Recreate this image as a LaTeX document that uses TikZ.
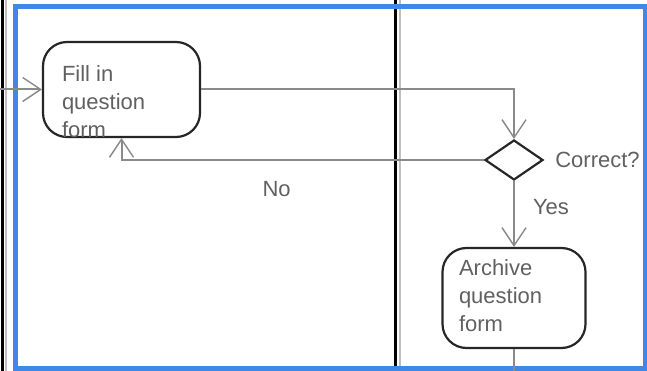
\documentclass[tikz,border=0pt]{standalone}
\usepackage{fontspec}
\setmainfont{Liberation Sans}
\usetikzlibrary{shapes.geometric}
\usetikzlibrary{positioning}
\usetikzlibrary{arrows.meta}

\definecolor{laneblue}{HTML}{3F88E8}
\definecolor{textgray}{HTML}{606060}
\definecolor{linegray}{HTML}{8A8A8A}

% text of an activity, moved up or down inside its box
\newcommand{\acttext}[3]{\raisebox{#1}[\height][\depth]{\parbox{#2}{\raggedright #3}}}

\begin{document}
\begin{tikzpicture}[x=1pt, y=-1pt,
  activity/.style={draw=black!85, line width=2.2pt, rounded corners=24pt, inner sep=0pt, font=\fontsize{22}{28}\selectfont, text=textgray},
  decision/.style={draw=black!85, diamond, line width=2.2pt, inner sep=0pt, minimum width=58pt, minimum height=40pt},
  flow/.style={draw=linegray, line width=2pt, -{Straight Barb[length=18pt,width=24pt,line width=1.4pt]}},
  tag/.style={text=textgray, font=\fontsize{22}{28}\selectfont, inner sep=0pt}]
 \useasboundingbox (0,0) rectangle (647,371);
 \coordinate (in) at (0,89.5);
 \coordinate (out) at (514,371);

    % draw lanes
    \draw[black, line width=3pt] (2.5,0) -- (2.5,371);
    \draw[black!25, line width=2pt] (6,0) -- (6,371);
    \draw[black, line width=3pt] (395,0) -- (395,371);
    \draw[black!25, line width=2pt] (399.5,0) -- (399.5,371);
    \draw[laneblue, line width=5pt] (15.5,7) rectangle (645,368.5);

    % draw activities
    \node[activity, minimum width=157pt, minimum height=95pt] (fill) at (121.5,89.5) {\acttext{-12pt}{119pt}{Fill in\\question\\form}};
    \node[decision] (check) at (514,160) {};
    \node[tag, right=11pt of check] (checklabel) {Correct?};
    \node[activity, minimum width=143pt, minimum height=100pt] (archive) at (514,298) {\acttext{2.5pt}{110pt}{Archive\\question\\form}};

    % draw flows
    \draw[flow] (in) -- (fill.west);
    \draw[flow] (fill.east) -| (check.north);
    \draw[flow] (check.west) -| (fill.south) node[tag, pos=0.286, below=20pt] (no) {No};
    \draw[flow] (check.south) -- (archive.north) node[tag, pos=0.4, right=18pt] (yes) {Yes};
    \draw[draw=linegray, line width=2pt] (archive.south) -- (out);
\end{tikzpicture}
\end{document}
